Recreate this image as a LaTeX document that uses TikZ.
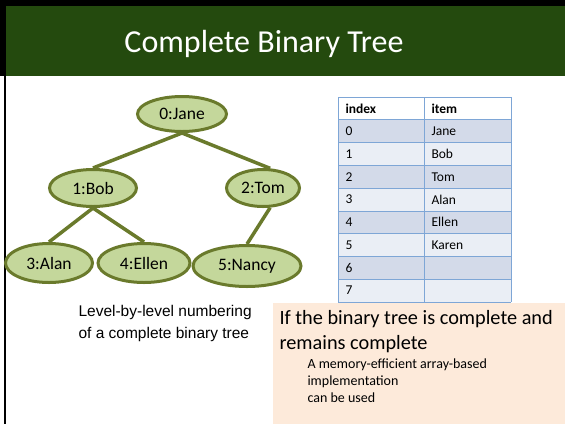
\documentclass[tikz,border=0pt]{standalone}
\usepackage{fontspec}
\setmainfont{Carlito}
\newfontfamily\arialfont{Liberation Sans}
\usetikzlibrary{shapes.geometric,backgrounds}
\definecolor{hdrgreen}{HTML}{244A0E}
\definecolor{treeline}{HTML}{6A7A2C}
\definecolor{treefill}{HTML}{C4D79B}
\definecolor{tblline}{HTML}{7EA6D6}
\definecolor{rowdark}{HTML}{D3DAE9}
\definecolor{rowlight}{HTML}{EAEEF5}
\definecolor{peach}{HTML}{FDEADA}
\tikzset{
  treenode/.style={ellipse, draw=treeline, line width=3pt, fill=treefill,
    inner sep=0pt, font=\fontsize{17.5}{20}\selectfont},
  treeedge/.style={draw=treeline, line width=3.5pt},
  cell/.style={anchor=west, font=\fontsize{13.5}{15}\selectfont},
  headcell/.style={cell, font=\fontsize{13.5}{15}\selectfont\bfseries},
}
\begin{document}
\begin{tikzpicture}[x=1pt,y=-1pt]
\useasboundingbox (0,0) rectangle (565,424);
% frame and title band
\fill[black] (0,0) rectangle (565,6);
\fill[black] (0,0) rectangle (6,76);
\fill[black] (3.5,76) rectangle (6,424);
\fill[hdrgreen] (6,6) rectangle (565,76);
\node[text=white, font=\fontsize{32}{38}\selectfont] (title) at (264,44) {Complete Binary Tree};

% tree nodes
\node[treenode, minimum width=89, minimum height=35] (n0) at (182,114) {0:Jane};
\node[treenode, minimum width=87, minimum height=37] (n1) at (93,188) {1:Bob};
\node[treenode, minimum width=73, minimum height=37] (n2) at (263,188) {2:Tom};
\node[treenode, minimum width=87, minimum height=39] (n3) at (49,263) {3:Alan};
\node[treenode, minimum width=92, minimum height=39] (n4) at (144,263) {4:Ellen};
\node[treenode, minimum width=108, minimum height=41] (n5) at (247,266) {5:Nancy};

% tree edges, kept behind the nodes
\begin{pgfonlayer}{background}
\fill[white] (6,76) rectangle (565,424);
\path[treeedge] (n0.south) -- (n1.north);
\path[treeedge] (n0.south) -- (n2.70);
\path[treeedge] (n1.south) -- (n3.north);
\path[treeedge] (n1.south) -- (n4.north);
\path[treeedge] (n2.-70) -- (n5.north);
\end{pgfonlayer}

% array table
\def\rh{22.78}
\foreach \i/\c in {1/rowdark,2/rowlight,3/rowdark,4/rowlight,5/rowdark,6/rowlight,7/rowdark,8/rowlight}{
  \fill[\c] (338,97+\i*\rh) rectangle (511,97+\i*\rh+\rh);
}
\foreach \i in {0,...,9}{
  \draw[tblline, line width=0.8pt] (338,97+\i*\rh) -- (511,97+\i*\rh);
}
\draw[tblline, line width=0.8pt] (338,97) -- (338,302) (424,97) -- (424,302) (511,97) -- (511,302);
\node[headcell] (h1) at (342,97+0.5*\rh) {index};
\node[headcell] (h2) at (428,97+0.5*\rh) {item};
\foreach \i/\t in {0/Jane,1/Bob,2/Tom,3/Alan,4/Ellen,5/Karen,6/,7/}{
  \node[cell] (ix\i) at (342,97+\i*\rh+1.5*\rh) {\i};
  \node[cell] (it\i) at (428,97+\i*\rh+1.5*\rh) {\t};
}

% caption
\node[anchor=north west, align=left, font=\arialfont\fontsize{15.5}{22}\selectfont] (cap) at (75,302)
  {Level-by-level numbering\\of a complete binary tree};

% note box
\fill[peach] (273,303) rectangle (565,424);
\node[anchor=north west, align=left, font=\fontsize{20.3}{25}\selectfont] (note) at (276,307)
  {If the binary tree is complete and\\remains complete};
\node[anchor=north west, align=left, font=\fontsize{14}{17}\selectfont] (sub) at (304,355)
  {A memory-efficient array-based\\implementation\\can be used};
\end{tikzpicture}
\end{document}
